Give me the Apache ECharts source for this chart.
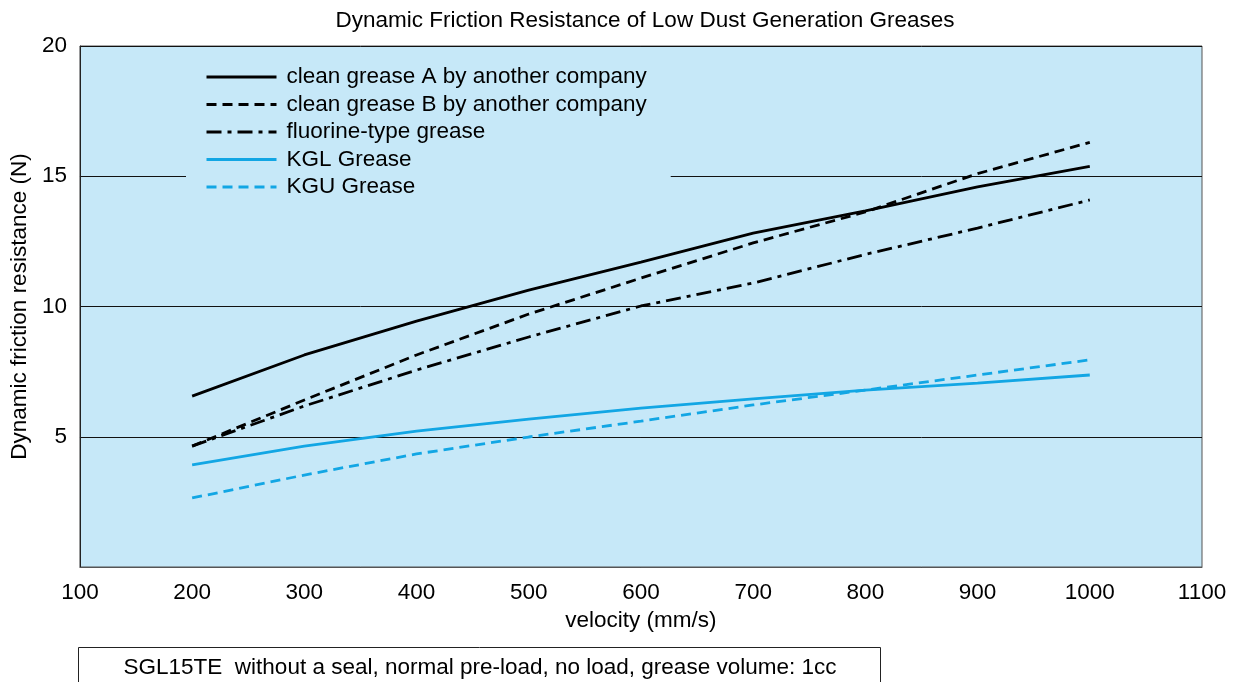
<!DOCTYPE html>
<html><head><meta charset="utf-8">
<script src="https://cdn.jsdelivr.net/npm/echarts@6/dist/echarts.min.js"></script>
<style>html,body{margin:0;padding:0;background:#fff}#c{width:1239px;height:682px}</style>
</head><body><div id="c"></div>
<script>
var velocity = [200, 300, 400, 500, 600, 700, 800, 900, 1000];
var cleanA = [6.56, 8.14, 9.44, 10.63, 11.7, 12.82, 13.67, 14.59, 15.38];
var cleanB = [4.64, 6.41, 8.14, 9.71, 11.09, 12.44, 13.63, 15.1, 16.3];
var fluorine = [4.64, 6.18, 7.56, 8.83, 10.02, 10.9, 12.0, 13.01, 14.09];
var kgl = [3.92, 4.64, 5.22, 5.68, 6.1, 6.45, 6.79, 7.06, 7.37];
var kgu = [2.65, 3.53, 4.34, 4.99, 5.6, 6.22, 6.79, 7.37, 7.95];
var seriesNames = ['clean grease A by another company','clean grease B by another company','fluorine-type grease','KGL Grease','KGU Grease'];
var yTicks = ['', '5', '10', '15', '20'];

function pairs(v){ return velocity.map(function(x,i){ return [x, v[i]]; }); }
var FONT = '"Liberation Sans", Arial, Helvetica, sans-serif';
var FS = 22.5;
var BLUE = '#12a6e4';
function mk(name, data, color, type){
  return { name: name, type: 'line', data: pairs(data), symbol: 'none', z: 3,
    lineStyle: { color: color, width: 2.8, type: type }, itemStyle: { color: color } };
}
var chart = echarts.init(document.getElementById('c'), null, {renderer: 'canvas'});
chart.setOption({
  animation: false,
  textStyle: { fontFamily: FONT },
  title: { text: 'Dynamic Friction Resistance of Low Dust Generation Greases', left: 640, textAlign: 'center', top: 4,
    textStyle: { fontFamily: FONT, fontSize: FS, fontWeight: 'normal', color: '#000' } },
  grid: { left: 78, right: 37, top: 46, bottom: 115, show: true, backgroundColor: '#c6e8f8', borderColor: '#555', borderWidth: 1 },
  legend: { orient: 'vertical', left: 186, top: 62, backgroundColor: '#c6e8f8',
    padding: [2, 24, 6, 19], itemWidth: 70, itemHeight: 14, itemGap: 1.5, z: 5,
    itemStyle: { opacity: 0 },
    lineStyle: { width: 3 },
    textStyle: { fontFamily: FONT, fontSize: FS, lineHeight: 26, color: '#000', padding: [0, 0, 0, 5] },
    data: seriesNames },
  xAxis: { type: 'value', min: 100, max: 1100, interval: 100,
    name: 'velocity (mm/s)', nameLocation: 'middle', nameGap: 37,
    nameTextStyle: { fontFamily: FONT, fontSize: FS, color: '#000' },
    axisLine: { show: true, lineStyle: { color: '#555', width: 1 } }, axisTick: { show: false }, splitLine: { show: false },
    axisLabel: { fontFamily: FONT, fontSize: FS, color: '#000', margin: 14, formatter: function(v){ return String(v); } } },
  yAxis: { type: 'value', min: 0, max: 20, interval: 5,
    name: 'Dynamic friction resistance (N)', nameLocation: 'middle', nameGap: 47, nameRotate: 90,
    nameTextStyle: { fontFamily: FONT, fontSize: FS, color: '#000' },
    axisLine: { show: true, lineStyle: { color: '#222', width: 1 } }, axisTick: { show: false },
    splitLine: { show: true, lineStyle: { color: '#111', width: 1 } },
    axisLabel: { fontFamily: FONT, fontSize: FS, color: '#000', margin: 13,
      formatter: function(v){ return yTicks[Math.round(v/5)]; } } },
  graphic: [
    { type: 'rect', shape: { x: 78.5, y: 647.5, width: 802, height: 60 }, style: { fill: '#fff', stroke: '#222', lineWidth: 1 } },
    { type: 'text', x: 480, y: 668, style: { text: 'SGL15TE  without a seal, normal pre-load, no load, grease volume: 1cc',
      font: FS + 'px ' + FONT, fill: '#000', textAlign: 'center', textVerticalAlign: 'middle' } }
  ],
  series: [
    mk(seriesNames[0], cleanA, '#000', 'solid'),
    mk(seriesNames[1], cleanB, '#000', [10, 6]),
    mk(seriesNames[2], fluorine, '#000', [15, 6, 4, 6]),
    mk(seriesNames[3], kgl, BLUE, 'solid'),
    mk(seriesNames[4], kgu, BLUE, [10, 6])
  ]
});
</script></body></html>
